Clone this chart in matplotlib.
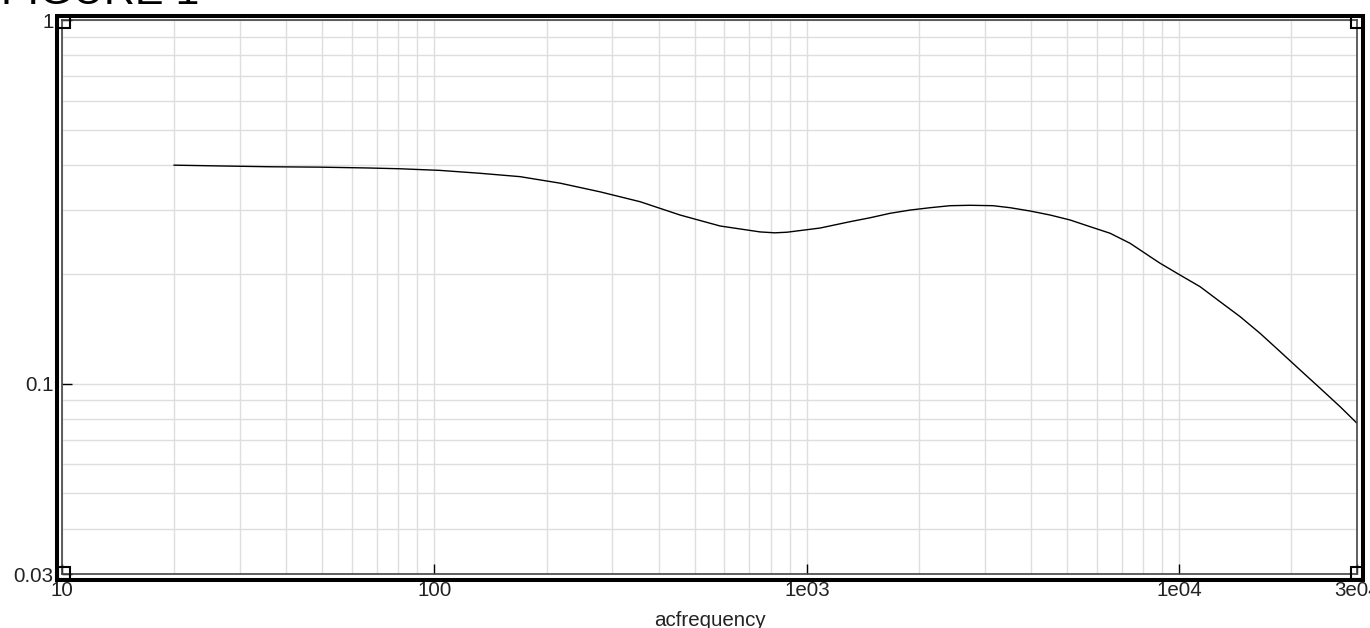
import matplotlib.pyplot as plt
import matplotlib.patches as patches
from matplotlib.ticker import LogLocator, NullFormatter, FixedLocator
import numpy as np

plt.rcParams['font.family'] = ['Liberation Sans', 'DejaVu Sans']

# Valores (frecuencia en Hz, magnitud)
freq = [20, 26.6, 36.2, 49.3, 65.9, 80.8, 103.5, 132.6, 169.8, 217.5,
        278.5, 356.6, 456.6, 584.7, 748.6, 820, 884.6, 1085, 1306, 1478,
        1673, 1894, 2142, 2424, 2743, 3162, 3513, 3975, 4499, 5091,
        5761, 6519, 7378, 8349, 8878, 10050, 11370, 12870, 14570, 16480,
        18650, 21110, 23890, 27030, 30000]
mag = [0.399, 0.397, 0.395, 0.394, 0.392, 0.390, 0.386, 0.379, 0.371, 0.356,
       0.337, 0.3166, 0.291, 0.2715, 0.2615, 0.260, 0.261, 0.268, 0.279, 0.286,
       0.2942, 0.3003, 0.3048, 0.3087, 0.3095, 0.3087, 0.3048, 0.2985, 0.291, 0.282,
       0.2703, 0.2593, 0.2433, 0.2236, 0.2145, 0.199, 0.1849, 0.1681, 0.1529, 0.1376,
       0.1226, 0.1091, 0.0972, 0.0865, 0.0779]

xticks = [10, 100, 1e3, 1e4, 3e4]
xticklabels = ['10', '100', '1e03', '1e04', '3e04']
yticks = [0.03, 0.1, 1]
yticklabels = ['0.03', '0.1', '1']

W, H = 1370, 628
fig = plt.figure(figsize=(W / 100, H / 100), dpi=100)
ax = fig.add_axes([62 / W, (H - 574) / H, 1295 / W, 554 / H])

ax.plot(freq, mag, color='black', linewidth=1.0)
ax.set_xscale('log')
ax.set_yscale('log')
ax.set_xlim(10, 3e4)
ax.set_ylim(0.03, 1)

ax.xaxis.set_major_locator(FixedLocator(xticks))
ax.set_xticklabels(xticklabels)
ax.yaxis.set_major_locator(FixedLocator(yticks))
ax.set_yticklabels(yticklabels)
ax.xaxis.set_minor_locator(LogLocator(base=10, subs=np.arange(2, 10)))
ax.yaxis.set_minor_locator(LogLocator(base=10, subs=np.arange(2, 10)))
ax.xaxis.set_minor_formatter(NullFormatter())
ax.yaxis.set_minor_formatter(NullFormatter())

ax.tick_params(which='major', direction='in', length=7, width=1, color='black',
               labelsize=14.8, labelcolor='#222222')
ax.tick_params(which='minor', length=0)
ax.tick_params(axis='x', pad=5)
ax.tick_params(axis='y', pad=6)

ax.grid(True, which='both', color='#dedede', linewidth=1.0)
ax.set_axisbelow(True)
for s in ax.spines.values():
    s.set_color('#444444')
    s.set_linewidth(1.2)

ax.set_xlabel('acfrequency', fontsize=14.8, color='#222222', labelpad=8)

# marco exterior grueso
def px_rect(x0, y0, x1, y1, lw):
    return patches.Rectangle((x0 / W, 1 - y1 / H), (x1 - x0) / W, (y1 - y0) / H,
                             transform=fig.transFigure, fill=False,
                             edgecolor='black', linewidth=lw)

fig.patches.append(px_rect(57, 15.5, 1363, 579.5, 2.9))
for cx, cy in [(58, 16), (1351, 16), (58, 567), (1351, 567)]:
    fig.patches.append(px_rect(cx, cy, cx + 12, cy + 12, 1.5))

# titulo cortado por el borde superior
fig.text(1 / W, 1 - 4.5 / H, 'FIGURE 1', fontsize=31, va='baseline', ha='left')

fig.savefig('out.png', dpi=100)
